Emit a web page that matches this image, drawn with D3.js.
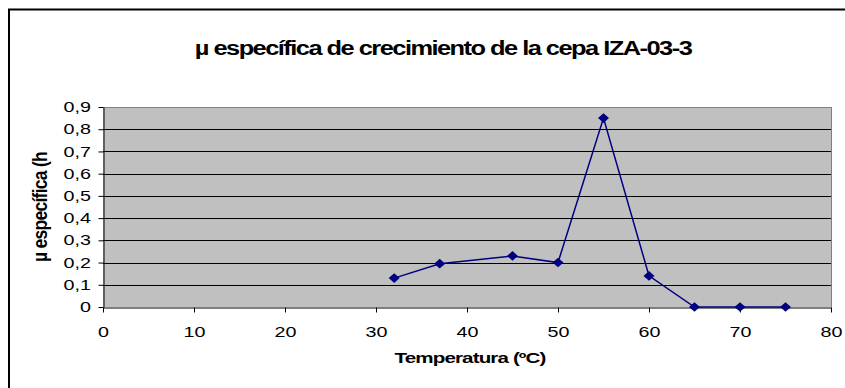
<!DOCTYPE html>
<html><head><meta charset="utf-8">
<script src="https://cdn.jsdelivr.net/npm/d3@7/dist/d3.min.js"></script>
<style>body{margin:0;background:#fff}svg{display:block}</style>
</head><body>
<svg id="c" width="845" height="388"></svg>
<script>
const temps = [32, 37, 45, 50, 55, 60, 65, 70, 75];
const mu = [0.13, 0.195, 0.23, 0.2, 0.85, 0.14, 0, 0, 0];
const xTicks = [0, 10, 20, 30, 40, 50, 60, 70, 80];
const yTicks = [0, 0.1, 0.2, 0.3, 0.4, 0.5, 0.6, 0.7, 0.8, 0.9];
const title = "µ específica de crecimiento de la cepa IZA-03-3";
const xTitle = "Temperatura (ºC)";
const yTitle = "µ específica (h";

const FONT = "Liberation Sans, Arial, sans-serif";
const STRETCH = 1.36;
const svg = d3.select("#c");
const L = 103, R = 831, T = 107, B = 307;
const x = d3.scaleLinear().domain([0, 80]).range([L, R]);
const y = d3.scaleLinear().domain([0, 0.9]).range([B, T]);
const fmt = d => d === 0 ? "0" : d3.format(".1f")(d).replace(".", ",");

function stretch(sel, k) {
  sel.each(function () {
    const len = this.getComputedTextLength();
    d3.select(this).attr("textLength", len * k).attr("lengthAdjust", "spacingAndGlyphs");
  });
}
// text drawn at origin then scaled to a target width
function fitText(cx, cy, txt, size, ls, width, rotate, cross) {
  const g = svg.append("g");
  const t = g.append("text").attr("text-anchor", "middle")
    .attr("font-family", FONT).attr("font-weight", "bold").attr("font-size", size)
    .attr("letter-spacing", ls).text(txt);
  const len = t.node().getBBox().width;
  const k = width / len;
  if (rotate) g.attr("transform", `translate(${cx},${cy}) scale(${cross},${k}) rotate(-90)`);
  else g.attr("transform", `translate(${cx},${cy}) scale(${k},1)`);
}

// outer frame
svg.append("path").attr("d", "M9,388 V9.5 H845").attr("fill", "none").attr("stroke", "#000").attr("stroke-width", 2);

// plot area
svg.append("rect").attr("x", L).attr("y", T).attr("width", R - L).attr("height", B - T).attr("fill", "#c0c0c0");
svg.append("g").selectAll("line").data(yTicks.slice(1)).join("line")
  .attr("x1", L).attr("x2", R).attr("y1", d => Math.round(y(d)) + 0.5).attr("y2", d => Math.round(y(d)) + 0.5)
  .attr("stroke", d => d === 0.9 ? "#808080" : "#000").attr("stroke-width", 1);
svg.append("line").attr("x1", R + 0.5).attr("x2", R + 0.5).attr("y1", T).attr("y2", B).attr("stroke", "#808080");

// axes
const xa = svg.append("g").attr("transform", `translate(0,${B + 0.5})`)
  .call(d3.axisBottom(x).tickValues(xTicks).tickFormat(d => d).tickSize(5).tickSizeOuter(0));
const ya = svg.append("g").attr("transform", `translate(${L + 0.5},0)`)
  .call(d3.axisLeft(y).tickValues(yTicks).tickFormat(fmt).tickSize(5).tickSizeOuter(0));
[xa, ya].forEach(g => {
  g.selectAll("path,line").attr("stroke", "#000");
  g.selectAll("text").attr("font-family", FONT).attr("font-size", 14.5).attr("fill", "#000");
});
xa.selectAll("text").attr("dy", "1.15em").attr("y", 13);
ya.selectAll("text").attr("x", -12.5);
stretch(xa.selectAll("text"), STRETCH);
stretch(ya.selectAll("text"), STRETCH);

// line + markers
svg.append("path").datum(temps.map((t, i) => [t, mu[i]]))
  .attr("d", d3.line().x(d => x(d[0])).y(d => y(d[1])))
  .attr("fill", "none").attr("stroke", "#000080").attr("stroke-width", 1.5);
svg.append("g").selectAll("path").data(temps.map((t, i) => [t, mu[i]])).join("path")
  .attr("transform", d => `translate(${x(d[0])},${y(d[1])})`)
  .attr("d", "M0,-4.8L5.5,0L0,4.8L-5.5,0Z").attr("fill", "#000080");

// titles
fitText(443, 55, title, 20, -1.2, 498, false);
fitText(470, 363, xTitle, 14, -0.6, 151, false);
fitText(47, 207, yTitle, 14.5, -0.6, 110, true, STRETCH);
</script>
</body></html>
